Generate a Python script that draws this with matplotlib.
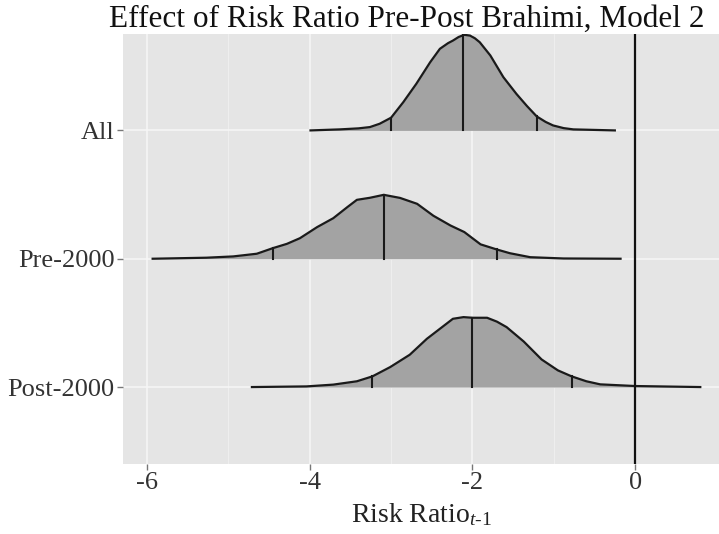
import matplotlib.pyplot as plt
import numpy as np

plt.rcParams['font.family'] = ['Liberation Serif', 'DejaVu Serif']
plt.rcParams['mathtext.fontset'] = 'custom'
plt.rcParams['mathtext.rm'] = 'Liberation Serif'
plt.rcParams['mathtext.it'] = 'Liberation Serif:italic'

groups = ['Post-2000', 'Pre-2000', 'All']

# density outlines (x, ridge height)
all_x = [-3.99, -3.63, -3.40, -3.26, -3.14, -3.00, -2.85, -2.69, -2.52, -2.40,
         -2.30, -2.24, -2.17, -2.10, -2.03, -1.97, -1.91, -1.78, -1.62, -1.46,
         -1.33, -1.21, -1.10, -1.01, -0.88, -0.76, -0.25]
all_h = [0.0, 0.008, 0.016, 0.026, 0.052, 0.099, 0.220, 0.363, 0.531, 0.636,
         0.680, 0.700, 0.728, 0.745, 0.739, 0.718, 0.687, 0.584, 0.415, 0.285,
         0.190, 0.109, 0.066, 0.039, 0.018, 0.008, 0.0]

pre_x = [-5.93, -5.27, -4.94, -4.65, -4.45, -4.28, -4.12, -3.91, -3.71, -3.54,
         -3.42, -3.26, -3.09, -2.89, -2.68, -2.48, -2.27, -2.10, -1.90, -1.70,
         -1.54, -1.29, -0.88, -0.18]
pre_h = [0.0, 0.008, 0.018, 0.039, 0.083, 0.116, 0.160, 0.246, 0.316, 0.401,
         0.459, 0.475, 0.498, 0.474, 0.428, 0.335, 0.259, 0.208, 0.112, 0.072,
         0.043, 0.012, 0.002, 0.0]

post_x = [-4.71, -4.04, -3.71, -3.42, -3.23, -3.01, -2.77, -2.56, -2.40, -2.24,
          -2.11, -2.00, -1.82, -1.70, -1.58, -1.37, -1.15, -0.95, -0.78, -0.60,
          -0.43, 0.0, 0.80]
post_h = [0.0, 0.005, 0.019, 0.045, 0.083, 0.156, 0.252, 0.376, 0.454, 0.532,
          0.545, 0.540, 0.540, 0.510, 0.467, 0.355, 0.215, 0.130, 0.083, 0.045,
          0.021, 0.008, 0.0]

# 2.5%, 50%, 97.5% lines
all_q = [-3.00, -2.11, -1.21]
pre_q = [-4.45, -3.09, -1.70]
post_q = [-3.23, -2.00, -0.78]

ridges = [(post_x, post_h, post_q), (pre_x, pre_h, pre_q), (all_x, all_h, all_q)]

fig = plt.figure(figsize=(7.19, 5.34), dpi=100)
ax = fig.add_axes([0.171, 0.131, 0.829, 0.805])
ax.set_facecolor('#E5E5E5')

for s in ax.spines.values():
    s.set_visible(False)

ax.set_xlim(-6.295, 1.03)
ax.set_ylim(0.40, 3.75)

for v in [-5, -3, -1]:
    ax.axvline(v, color='#F0F0F0', lw=0.6, zorder=0)
for v in [-6, -4, -2, 0]:
    ax.axvline(v, color='#F7F7F7', lw=1.1, zorder=0)
for i in range(len(groups)):
    ax.axhline(i + 1, color='#F7F7F7', lw=1.1, zorder=0)

for i, (xs, hs, qs) in enumerate(ridges):
    base = i + 1
    xs = np.array(xs)
    hs = np.array(hs)
    ax.fill_between(xs, base, base + hs, color='#A3A3A3', lw=0, zorder=2 + i)
    ax.plot(xs, base + hs, color='#1A1A1A', lw=1.6, zorder=3 + i,
            solid_joinstyle='round')
    for q in qs:
        top = np.interp(q, xs, hs)
        ax.plot([q, q], [base, base + top], color='#1A1A1A', lw=1.5, zorder=3 + i)

ax.axvline(0, color='#111111', lw=1.6, zorder=10)

ax.set_xticks([-6, -4, -2, 0])
ax.set_xticklabels(['-6', '-4', '-2', '0'])
ax.set_yticks([1, 2, 3])
ax.set_yticklabels(groups)
ax.tick_params(axis='both', labelsize=19, colors='#777777', labelcolor='#333333',
               length=4, width=1, pad=2)

ax.set_xlabel(r'Risk Ratio$_{\mathit{t}\text{-}\mathit{1}}$', fontsize=20,
              color='#222222', labelpad=5)
fig.text(0.566, 0.964, 'Effect of Risk Ratio Pre-Post Brahimi, Model 2',
         ha='center', va='center', fontsize=22.5, color='#111111')

fig.savefig('out.png', dpi=100)
